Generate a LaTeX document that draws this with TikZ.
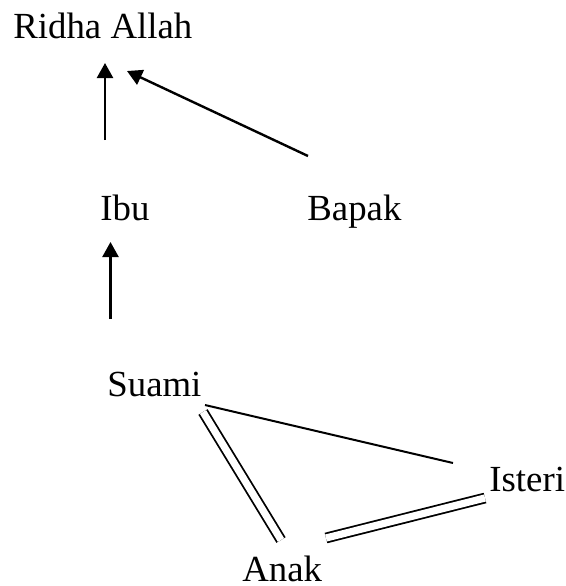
\documentclass[tikz,border=0pt]{standalone}
\usepackage{fontspec}
\setmainfont{Liberation Serif}
\usetikzlibrary{arrows.meta}
\tikzset{
  lbl/.style={anchor=base west, inner sep=0pt, font=\fontsize{18.4}{22}\selectfont},
  arr/.style={line width=1.2pt, -{Triangle[length=7.5pt,width=8pt]}},
  single/.style={line width=1pt},
  dbl/.style={double, double distance=3.6pt, line width=0.9pt}
}
\begin{document}
\begin{tikzpicture}[x=0.5pt,y=-0.5pt]
\useasboundingbox (0,0) rectangle (566,586);
\node[lbl] (ridha) at (13,38) {Ridha Allah};
\node[lbl] (ibu) at (100,220) {Ibu};
\node[lbl] (bapak) at (307,220) {Bapak};
\node[lbl] (suami) at (107,396) {Suami};
\node[lbl] (isteri) at (489,491) {Isteri};
\node[lbl] (anak) at (242,581) {Anak};
% arrow ends
\coordinate (a1s) at (105,140);
\coordinate (a1e) at (105,63);
\coordinate (a2s) at (308,156);
\coordinate (a2e) at (127,71);
\coordinate (a3s) at (110.5,319);
\coordinate (a3e) at (110.5,242);
\coordinate (s1) at (205,405);
\coordinate (i1) at (453,463);
\coordinate (s2) at (203,412);
\coordinate (n2) at (281,540);
\coordinate (n3) at (326,538);
\coordinate (i3) at (485,498);
\draw[arr] (a1s) -- (a1e);
\draw[arr] (a2s) -- (a2e);
\draw[arr] (a3s) -- (a3e);
\draw[single] (s1) -- (i1);
\draw[dbl] (s2) -- (n2);
\draw[dbl] (n3) -- (i3);
\end{tikzpicture}
\end{document}
